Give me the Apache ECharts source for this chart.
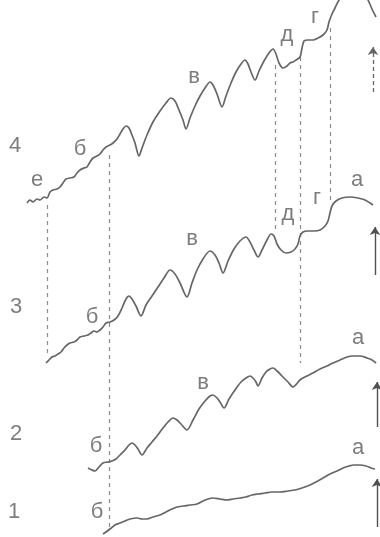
<!DOCTYPE html>
<html>
<head>
<meta charset="utf-8">
<script src="https://cdn.jsdelivr.net/npm/echarts@6/dist/echarts.min.js"></script>
<style>html,body{margin:0;padding:0;background:#fff}#c{width:380px;height:537px}</style>
</head>
<body>
<div id="c"></div>
<script>
// Curves (x, y in the figure's own coordinate space; y grows downward)
var curve4 = [[27,203],[30,200],[33,202],[37,199],[40,200],[44,197],[47,198],[50,192],[53,190],[57,189],[60,187],[63,183],[66,179],[70,178],[74,177],[77,173],[80,170],[84,168],[87,167],[90,162],[93,158],[97,156],[100,154],[103,150],[106,147],[110,145],[113,143],[117,139],[120,134],[123,129],[126,126],[129,128],[132,135],[135,143],[139,156],[142,148],[147,135],[153,122],[160,111],[166,103],[171,98],[175,101],[179,110],[183,120],[186,129],[190,118],[195,106],[200,96],[205,88],[210,82],[213,85],[217,94],[222,107],[226,96],[231,83],[236,72],[241,64],[245,60],[248,64],[251,72],[255,80],[259,71],[264,61],[269,53],[273,49],[276,54],[279,63],[283,68],[287,66],[290,63],[293,62],[296,60],[300,57],[302,48],[304,41],[308,40],[313,40],[318,38],[323,35],[327,30],[329,22],[332,14],[335,8],[339,0],[345,-7],[353,-11],[361,-9],[367,-2],[372,9],[376,17]];
var curve3 = [[46,363],[49,360],[52,357],[55,356],[58,354],[61,352],[64,348],[67,345],[70,343],[74,342],[77,340],[80,337],[84,336],[88,335],[91,333],[94,331],[97,332],[100,330],[103,327],[106,323],[110,322],[114,320],[118,316],[122,308],[126,299],[129,296],[132,299],[136,306],[141,316],[146,305],[152,296],[158,287],[164,278],[170,270],[175,274],[180,283],[187,297],[192,283],[197,270],[203,259],[210,251],[215,255],[219,263],[223,273],[228,261],[234,249],[240,241],[246,237],[250,242],[254,250],[258,257],[262,250],[267,240],[271,234],[274,236],[277,244],[281,250],[286,253],[291,252],[295,249],[298,244],[300,236],[303,232],[308,231],[314,231],[320,230],[325,226],[328,221],[330,213],[332,206],[336,201],[342,198],[350,197],[358,198],[365,200],[373,205]];
var curve2 = [[88,468],[92,470],[95,471],[99,467],[103,463],[108,462],[112,461],[116,459],[120,455],[125,450],[129,445],[132,443],[135,445],[138,449],[142,455],[147,448],[152,442],[157,436],[163,428],[168,422],[173,418],[177,420],[181,424],[187,430],[193,420],[199,409],[205,401],[210,396],[213,395],[217,398],[220,402],[224,408],[229,399],[235,390],[241,382],[246,378],[250,376],[253,378],[256,382],[258,386],[262,378],[266,372],[270,369],[273,368],[277,371],[282,376],[288,382],[293,387],[300,380],[307,376],[313,373],[320,369],[327,366],[333,363],[340,360],[347,357],[353,356],[360,356],[367,358],[372,360],[376,363]];
var curve1 = [[103,534],[106,532],[110,529],[115,525],[120,523],[125,521],[130,519],[137,518],[142,519],[147,519],[153,517],[160,515],[166,512],[172,509],[177,507],[183,506],[190,505],[197,504],[203,501],[208,499],[213,498],[220,499],[227,500],[233,499],[240,498],[246,497],[252,495],[258,494],[265,493],[272,492],[280,492],[288,491],[295,490],[302,488],[310,485],[316,482],[323,478],[330,474],[337,471],[343,468],[349,466],[354,465],[360,465],[366,466],[371,468],[375,469]];

// Vertical dashed guides
var guides = [[[47,205],[47,355]],[[109,155],[109,528]],[[275,65],[275,232]],[[300,57],[300,363]],[[330,28],[330,200]]];
// Arrows (from, to)
var arrowDashed = [[[373,92],[373,47]]];
var arrowsSolid = [[[375,275],[375,227]],[[377,427],[377,382]],[[377,527],[377,479]]];

// Text labels
var numberLabels = [['4',15,146],['3',16,307],['2',16,434],['1',14,512]];
var letterLabels = [['е',37,180],['б',80,149],['в',194,77],['д',287,35],['г',315,17],
  ['б',92,317],['в',192,239],['д',288,214],['г',317,198],['а',357,180],
  ['б',96,446],['в',203,383],['а',358,338],
  ['б',97,512],['а',358,448]];

var LINE = '#666666', TXT = '#5c5c5c', DASH = '#8c8c8c';
function curve(d){
  return {type:'line', data:d, showSymbol:false, smooth:0.3, clip:true,
    lineStyle:{color:LINE, width:1.7}, silent:true};
}
function labels(arr, size){
  return {type:'scatter', symbolSize:1, itemStyle:{color:'rgba(0,0,0,0)'}, silent:true,
    data:arr.map(function(a){return {name:a[0], value:[a[1],a[2]]};}),
    label:{show:true, position:'inside', formatter:'{b}', color:TXT, fontSize:size,
      fontFamily:'Liberation Sans, Arial, sans-serif', align:'center', verticalAlign:'middle'}};
}
var chart = echarts.init(document.getElementById('c'), null, {renderer:'canvas'});
chart.setOption({
  animation:false,
  backgroundColor:'#fff',
  grid:{left:0,right:0,top:0,bottom:0},
  xAxis:{type:'value', min:0, max:380, show:false},
  yAxis:{type:'value', min:0, max:537, inverse:true, show:false},
  series:[
    {type:'lines', coordinateSystem:'cartesian2d', silent:true,
      data:guides.map(function(g){return {coords:g};}),
      lineStyle:{color:DASH, width:1.2, type:[4,4], opacity:1}},
    {type:'lines', coordinateSystem:'cartesian2d', silent:true, symbol:['none','arrow'], symbolSize:8,
      data:arrowDashed.map(function(g){return {coords:g};}),
      lineStyle:{color:LINE, width:1.3, type:[4,3], opacity:1}},
    {type:'lines', coordinateSystem:'cartesian2d', silent:true, symbol:['none','arrow'], symbolSize:8,
      data:arrowsSolid.map(function(g){return {coords:g};}),
      lineStyle:{color:'#505050', width:1.4, opacity:1}},
    curve(curve4), curve(curve3), curve(curve2), curve(curve1),
    labels(numberLabels, 22),
    labels(letterLabels, 22)
  ]
});
</script>
</body>
</html>
